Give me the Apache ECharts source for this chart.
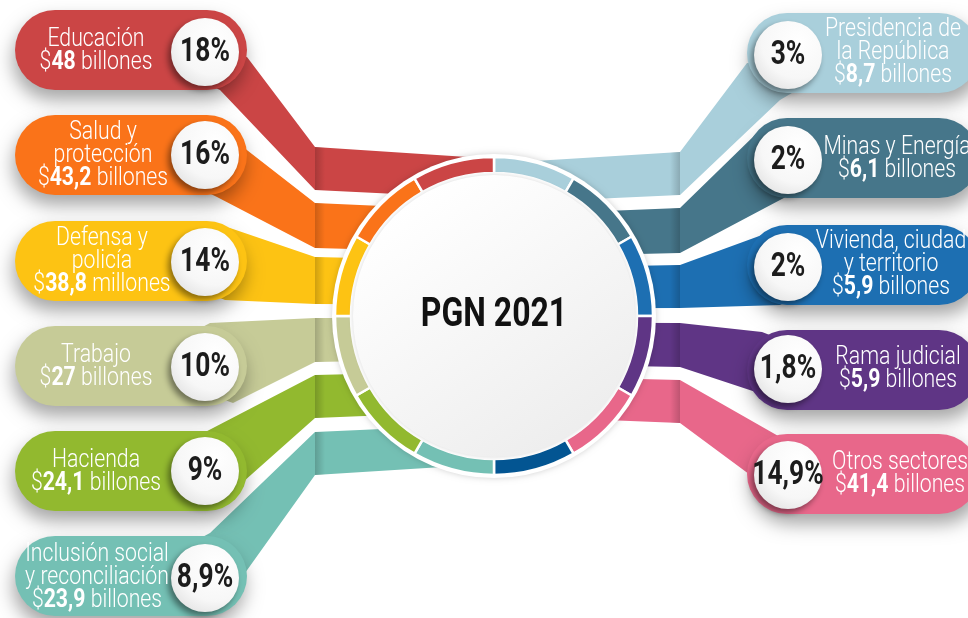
<!DOCTYPE html>
<html>
<head>
<meta charset="utf-8">
<script src="https://cdn.jsdelivr.net/npm/echarts@6/dist/echarts.min.js"></script>
<style>
html, body { margin: 0; padding: 0; background: #fff; }
#chart { width: 968px; height: 618px; }
</style>
</head>
<body>
<div id="chart"></div>
<script>
// sectores: 6 a la izquierda, 5 a la derecha
const sectorLines = [
    ['Educación'],
    ['Salud y', 'protección'],
    ['Defensa y', 'policía'],
    ['Trabajo'],
    ['Hacienda'],
    ['Inclusión social', 'y reconciliación'],
    ['Presidencia de', 'la República'],
    ['Minas y Energía'],
    ['Vivienda, ciudad', 'y territorio'],
    ['Rama judicial'],
    ['Otros sectores'],
];
const amounts = ['48', '43,2', '38,8', '27', '24,1', '23,9', '8,7', '6,1', '5,9', '5,9', '41,4'];
const units = ['billones', 'billones', 'millones', 'billones', 'billones', 'billones',
    'billones', 'billones', 'billones', 'billones', 'billones'];
const percents = ['18%', '16%', '14%', '10%', '9%', '8,9%', '3%', '2%', '2%', '1,8%', '14,9%'];

// anillo: 12 tramos iguales, en sentido horario desde arriba
const ringSlots = [1, 1, 1, 1, 1, 1, 1, 1, 1, 1, 1, 1];
const ringColors = ['#a9cfdb', '#46768a', '#1d6fb2', '#5f3585', '#e8678a', '#035592',
    '#74c0b4', '#92b92f', '#c6cb97', '#fdc313', '#fa7319', '#cb4545'];

const colors = ['#cb4545', '#fa7319', '#fdc313', '#c6cb97', '#92b92f', '#74c0b4',
    '#a9cfdb', '#46768a', '#1d6fb2', '#5f3585', '#e8678a'];

// layout
const cx = 494, cy = 316;
const pillY = [50, 155, 261, 366, 471, 576, 53, 158, 265, 370, 474];
const textX = [96, 103, 102, 96, 96, 97, 893, 897, 891, 898, 900];
const textY = [51, 156, 262, 367, 472, 578, 53, 159, 265, 369, 474];
const badgeY = [52, 155, 262, 367, 471, 578, 55, 160, 267, 369, 475];
// conectores: [inicio borde sup], [inicio borde inf], y sup / y inf en el pliegue
const bandA = [[247, 57], [243, 147], [230, 228], [210, 323], [213, 428], [210, 533],
    [747, 63], [757, 133], [762, 235], [762, 332], [780, 437]];
const bandB = [[220, 90], [217, 197], [225, 300], [233, 403], [243, 482], [245, 573],
    [780, 100], [780, 200], [780, 305], [780, 400], [757, 480]];
const foldTop = [147, 203, 257, 318, 375, 432, 152, 208, 265, 323, 380];
const foldBot = [190, 248, 304, 362, 418, 475, 195, 253, 308, 367, 423];

const graphics = [];
sectorLines.forEach((lines, i) => {
    const left = i < 6;
    const fx = left ? 315 : 680;
    const pcx = left ? 130 : 860;
    const conv = (y) => y + (cy - y) * 0.07;
    graphics.push({
        type: 'polygon', z: 1, silent: true,
        shape: { points: [[pcx, pillY[i]], bandA[i], [fx, foldTop[i]], [cx, conv(foldTop[i])],
            [cx, conv(foldBot[i])], [fx, foldBot[i]], bandB[i]] },
        style: { fill: colors[i] }
    });
    // sombra del pliegue
    graphics.push({
        type: 'rect', z: 1, silent: true,
        shape: { x: left ? fx : fx - 10, y: foldTop[i], width: 10, height: foldBot[i] - foldTop[i] },
        style: {
            fill: new echarts.graphic.LinearGradient(0, 0, 1, 0, left
                ? [{ offset: 0, color: 'rgba(0,0,0,0.18)' }, { offset: 1, color: 'rgba(0,0,0,0)' }]
                : [{ offset: 0, color: 'rgba(0,0,0,0)' }, { offset: 1, color: 'rgba(0,0,0,0.18)' }])
        }
    });
    // pastilla
    graphics.push({
        type: 'rect', z: 5, silent: true,
        shape: { x: left ? 15 : 747, y: pillY[i] - 40, width: 232, height: 80, r: 40 },
        style: {
            fill: colors[i], shadowBlur: 18, shadowOffsetY: 10, shadowOffsetX: left ? -2 : 3,
            shadowColor: 'rgba(0,0,0,0.35)'
        }
    });
    // circulo del porcentaje
    const bx = left ? 205 : 788;
    graphics.push({
        type: 'circle', z: 6, silent: true,
        shape: { cx: bx, cy: badgeY[i], r: 34 },
        style: {
            fill: new echarts.graphic.RadialGradient(0.65, 0.3, 0.9, [
                { offset: 0, color: '#ffffff' }, { offset: 0.6, color: '#f7f7f7' }, { offset: 1, color: '#dcdcdc' }]),
            shadowBlur: 6, shadowOffsetX: -3, shadowOffsetY: 4, shadowColor: 'rgba(0,0,0,0.45)'
        }
    });
    graphics.push({
        type: 'text', z: 7, silent: true, x: bx, y: badgeY[i] + 1, scaleX: 0.8,
        style: {
            text: percents[i], fill: '#1c1c1c', font: 'bold 33px Roboto',
            align: 'center', verticalAlign: 'middle', textAlign: 'center', textVerticalAlign: 'middle'
        }
    });
    const rows = lines.map((l) => '{l|' + l + '}');
    rows.push('{l|$}{b|' + amounts[i] + '}{l| ' + units[i] + '}');
    graphics.push({
        type: 'text', z: 7, silent: true, x: textX[i], y: textY[i], scaleX: 0.85,
        style: {
            text: rows.join('\n'),
            align: 'center', verticalAlign: 'middle', textAlign: 'center', textVerticalAlign: 'middle',
            rich: {
                l: { fill: '#ffffff', fontFamily: 'Roboto', fontWeight: 300, fontSize: 25, lineHeight: 23 },
                b: { fill: '#ffffff', fontFamily: 'Roboto', fontWeight: 'bold', fontSize: 25, lineHeight: 23 }
            }
        }
    });
});

// fondo blanco del anillo y disco central
graphics.push({
    type: 'circle', z: 2, silent: true,
    shape: { cx: cx, cy: cy, r: 162 },
    style: { fill: '#ffffff', shadowBlur: 6, shadowColor: 'rgba(0,0,0,0.18)' }
});
graphics.push({
    type: 'circle', z: 4, silent: true,
    shape: { cx: cx, cy: cy, r: 141 },
    style: {
        fill: new echarts.graphic.LinearGradient(0.2, 0.1, 0.8, 0.95, [
            { offset: 0, color: '#ffffff' }, { offset: 1, color: '#ededed' }]),
        shadowBlur: 5, shadowColor: 'rgba(0,0,0,0.15)'
    }
});
graphics.push({
    type: 'text', z: 7, silent: true, x: cx, y: cy, scaleX: 0.8,
    style: {
        text: 'PGN 2021', fill: '#111111', font: 'bold 40px Roboto',
        align: 'center', verticalAlign: 'middle', textAlign: 'center', textVerticalAlign: 'middle'
    }
});

const chart = echarts.init(document.getElementById('chart'), null, { renderer: 'canvas' });
chart.setOption({
    animation: false,
    backgroundColor: '#ffffff',
    graphic: { elements: graphics },
    series: [{
        type: 'pie',
        z: 3,
        silent: true,
        center: [cx, cy],
        radius: [143, 159],
        startAngle: 90,
        clockwise: true,
        label: { show: false },
        labelLine: { show: false },
        itemStyle: { borderColor: '#ffffff', borderWidth: 2.5 },
        data: ringSlots.map((v, i) => ({ value: v, itemStyle: { color: ringColors[i] } }))
    }]
});
</script>
</body>
</html>
